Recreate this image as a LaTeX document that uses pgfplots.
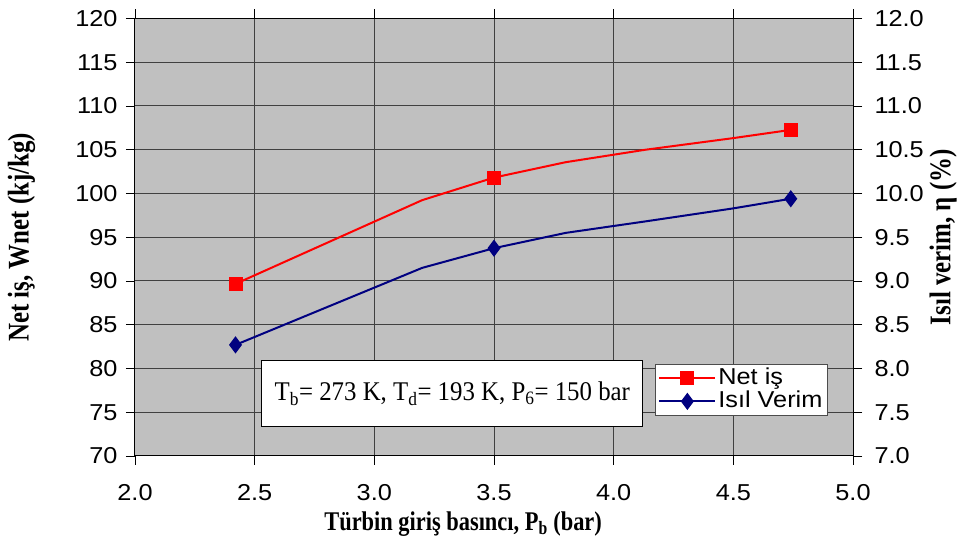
\documentclass[border=0pt]{standalone}
\usepackage{fontspec}
\setmainfont{Liberation Serif}
\setsansfont{Liberation Sans}
\newfontfamily\tickfont[FakeStretch=1.1]{Liberation Sans}
\newfontfamily\labfont[FakeStretch=0.83]{Liberation Serif}
\newfontfamily\annfont[FakeStretch=0.92]{Liberation Serif}
\usepackage{pgfplots}
\pgfplotsset{compat=1.18}
\definecolor{bg}{HTML}{C0C0C0}
\definecolor{navy}{HTML}{000080}
\begin{document}
\begin{tikzpicture}
\pgfplotsset{
  base/.style={
    scale only axis, width=718pt, height=437.5pt,
    xmin=2, xmax=5, xtick={2,2.5,...,5},
    tick align=outside, major tick length=9pt,
    ticklabel style={font=\tickfont\fontsize{23}{23}\selectfont},
    /pgf/number format/assume math mode=true,
    tick style={black, line width=0.8pt},
  }
}
\path[use as bounding box] (-135pt,-89pt) rectangle (826pt,456pt);
\begin{axis}[base,
  ymin=70, ymax=120, ytick={70,75,...,120},
  axis background/.style={fill=bg},
  grid=major, grid style={black!75, line width=1pt},
  axis line style={black, line width=1pt},
  xticklabel style={yshift=-16pt, /pgf/number format/.cd, fixed, fixed zerofill, precision=1},
  yticklabel style={xshift=-5pt},
  ylabel={\bfseries Net iş, Wnet (kj/kg)},
  ylabel style={at={(axis description cs:-0.158,0.5)}, anchor=center, font=\labfont\fontsize{30}{30}\selectfont},
  xlabel={\bfseries Türbin giriş basıncı, P\textsubscript{b} (bar)},
  xlabel style={at={(axis description cs:0.457,-0.155)}, anchor=center, font=\labfont\fontsize{27}{27}\selectfont},
]
\addplot[red, line width=2pt, mark=square*, mark size=6pt, mark indices={1,3,7}] coordinates {
(2.42,89.67) (3.2,99.24) (3.5,101.82) (3.8,103.58) (4.13,104.99) (4.5,106.33) (4.74,107.27)
};
\end{axis}
\begin{axis}[base,
  ymin=7, ymax=12, ytick={7,7.5,...,12},
  axis y line*=right, axis x line=none,
  axis line style={black, line width=1pt},
  yticklabel style={xshift=9pt, /pgf/number format/.cd, fixed, fixed zerofill, precision=1},
  ylabel={\bfseries Isıl verim, η (\%)},
  ylabel style={at={(axis description cs:1.1255,0.5)}, anchor=center, font=\labfont\fontsize{30}{30}\selectfont},
  legend style={at={(rel axis cs:0.7242,0.2103)}, anchor=north west, draw=black!70, line width=0.8pt, fill=white,
    font=\tickfont\fontsize{23}{23}\selectfont, inner sep=3pt, row sep=1pt,
    nodes={inner xsep=2pt, inner ysep=0pt, text height=17pt, text depth=5pt}},
  legend cell align=left,
  legend image code/.code={\draw[#1, mark repeat=2, mark phase=2] plot coordinates {(0pt,0pt)(28pt,0pt)(56pt,0pt)};},
]
\node[draw=black, line width=1pt, fill=white, minimum width=381pt, minimum height=66pt, inner sep=0pt,
  font=\annfont\fontsize{27}{27}\selectfont] at (rel axis cs:0.442,0.142)
  {T\textsubscript{b}= 273 K, T\textsubscript{d}= 193 K, P\textsubscript{6}= 150 bar};
\addplot[navy, line width=2pt, mark=diamond*, mark size=7pt, mark indices={1,3,7}, forget plot] coordinates {
(2.42,8.27) (3.2,9.15) (3.5,9.375) (3.8,9.55) (4.13,9.68) (4.5,9.83) (4.74,9.94)
};
\addlegendimage{red, line width=2pt, mark=square*, mark size=6pt}
\addlegendentry{Net iş}
\addlegendimage{navy, line width=2pt, mark=diamond*, mark size=7pt}
\addlegendentry{Isıl Verim}
\end{axis}
\end{tikzpicture}
\end{document}
